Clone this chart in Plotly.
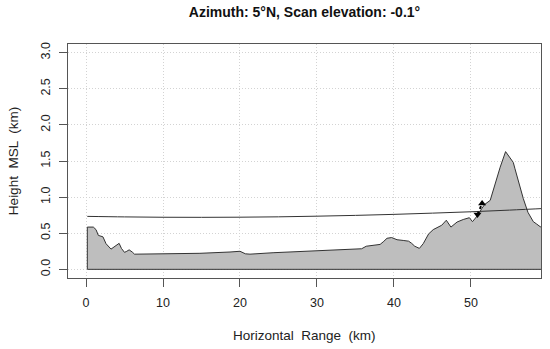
import plotly.graph_objects as go

# Terrain profile (km range, km MSL height)
terrain_range = [0.17, 0.95, 1.3, 1.6, 2.2, 2.6, 3.25, 3.77, 4.3, 4.6, 5.0, 5.3, 5.6, 6.0, 6.3,
                 10.0, 14.8, 18.7, 19.6, 20.0, 20.7, 21.3, 24.3, 26.5, 29.1, 30.0, 35.8, 36.4,
                 38.2, 38.6, 39.1, 39.7, 40.4, 41.2, 41.9, 42.3, 42.7, 43.3, 43.8, 44.5, 45.1,
                 46.2, 46.8, 47.4, 48.2, 49.0, 49.8, 50.2, 50.9, 51.4, 51.8, 52.5, 53.1, 53.8,
                 54.5, 55.5, 55.7, 56.8, 57.4, 58.1, 58.5, 59.0, 59.3]
terrain_height = [0.585, 0.585, 0.55, 0.47, 0.45, 0.355, 0.28, 0.32, 0.36, 0.29, 0.235, 0.25, 0.27,
                  0.24, 0.21, 0.215, 0.222, 0.24, 0.25, 0.25, 0.215, 0.21, 0.23, 0.24, 0.25, 0.253,
                  0.285, 0.32, 0.345, 0.38, 0.43, 0.44, 0.41, 0.40, 0.39, 0.36, 0.32, 0.29, 0.355,
                  0.49, 0.55, 0.61, 0.68, 0.585, 0.655, 0.69, 0.715, 0.66, 0.75, 0.84, 0.9, 0.955,
                  1.185, 1.415, 1.63, 1.48, 1.40, 0.98, 0.79, 0.66, 0.63, 0.59, 0.585]

# Beam centre line
beam_range = [0.17, 5, 10, 15, 20, 25, 30, 35, 40, 45, 50, 55, 60]
beam_height = [0.733, 0.726, 0.721, 0.720, 0.722, 0.727, 0.736, 0.747, 0.761, 0.778, 0.797, 0.820, 0.845]

# Blockage marker
marker_range = [50.85, 51.45]
marker_height = [0.76, 0.91]

x_ticks = [0, 10, 20, 30, 40, 50]
y_ticks = [0.0, 0.5, 1.0, 1.5, 2.0, 2.5, 3.0]
y_tick_labels = ["0.0", "0.5", "1.0", "1.5", "2.0", "2.5", "3.0"]

title_text = "Azimuth: 5°N, Scan elevation: -0.1°"
x_title = "Horizontal  Range  (km)"
y_title = "Height  MSL  (km)"

poly_x = terrain_range + [terrain_range[-1], terrain_range[0], terrain_range[0]]
poly_y = terrain_height + [0.0, 0.0, terrain_height[0]]

fig = go.Figure()
fig.add_trace(go.Scatter(x=poly_x, y=poly_y, mode="lines", fill="toself",
                         fillcolor="#BEBEBE", line=dict(color="#333333", width=1),
                         hoverinfo="skip", showlegend=False))
fig.add_trace(go.Scatter(x=beam_range, y=beam_height, mode="lines",
                         line=dict(color="#333333", width=1, shape="spline"),
                         showlegend=False))
fig.add_trace(go.Scatter(x=marker_range, y=marker_height, mode="lines+markers",
                         line=dict(color="black", width=2, dash="dot"),
                         marker=dict(symbol=["triangle-down", "triangle-up"], size=7, color="black"),
                         showlegend=False))

font_fam = "Liberation Sans, Arial"
axis_common = dict(showline=True, mirror=True, linecolor="#555555", linewidth=1,
                   ticks="outside", ticklen=8, tickcolor="#555555", tickwidth=1,
                   showgrid=True, gridcolor="#D3D3D3", griddash="1px,2px", gridwidth=1,
                   zeroline=False, automargin=False,
                   tickfont=dict(family=font_fam, size=12.5, color="#222222"))

fig.update_layout(
    width=550, height=349,
    margin=dict(l=68, r=9, t=44, b=71, autoexpand=False),
    paper_bgcolor="white", plot_bgcolor="white",
    title=dict(text="<b>" + title_text + "</b>", x=(68 + 541) / 2 / 550, xanchor="center",
               y=1 - 12 / 349, yanchor="middle",
               font=dict(family=font_fam, size=14, color="#111111")),
    xaxis=dict(range=[-2.34, 59.1], tickvals=x_ticks, ticklabelstandoff=5, **axis_common),
    yaxis=dict(range=[-0.12, 3.12], tickvals=y_ticks, ticktext=y_tick_labels, tickangle=-90,
               ticklabelstandoff=4, **axis_common),
    annotations=[
        dict(text=x_title, x=0.5, y=-0.244, xref="paper", yref="paper", showarrow=False,
             xanchor="center", yanchor="middle",
             font=dict(family=font_fam, size=13.5, color="#222222")),
        dict(text=y_title, x=-0.116, y=0.5, xref="paper", yref="paper", showarrow=False,
             textangle=-90, xanchor="center", yanchor="middle",
             font=dict(family=font_fam, size=13.5, color="#222222")),
    ],
)

fig.write_html("out.html", config={"displayModeBar": False},
               post_script="document.body.style.margin='0px';document.body.style.overflow='hidden';")
